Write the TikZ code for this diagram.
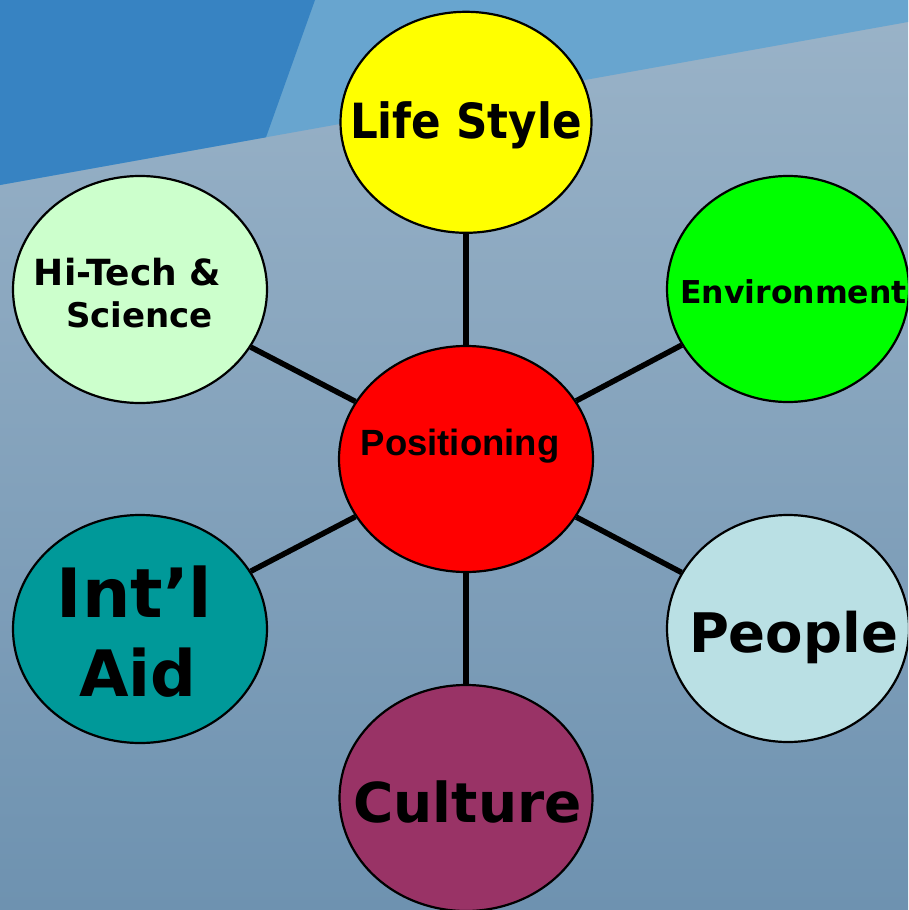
\documentclass[tikz,border=0pt]{standalone}
\usepackage{fontspec}
\setmainfont{DejaVu Sans}
\newfontfamily\verdanab{DejaVu Sans}[BoldFont={* Bold}]
\newfontfamily\condb{DejaVu Sans Condensed}[BoldFont={* Bold}]
\newfontfamily\arialb{Liberation Sans}[BoldFont={* Bold}]
\usetikzlibrary{shapes.geometric}
\definecolor{deepblue}{HTML}{3783C2}
\definecolor{lightblue}{HTML}{68A5CF}
\definecolor{greytop}{HTML}{9AB3C8}
\definecolor{greybot}{HTML}{6E92B0}
\definecolor{cLife}{HTML}{FFFF00}
\definecolor{cTech}{HTML}{CCFFCC}
\definecolor{cEnv}{HTML}{00FF00}
\definecolor{cPos}{HTML}{FF0000}
\definecolor{cAid}{HTML}{009999}
\definecolor{cPeople}{HTML}{BAE0E4}
\definecolor{cCult}{HTML}{993366}
% place one line of text: x offset, baseline offset (up), text
\newcommand\placetxt[3]{\makebox[0pt]{\smash{\raisebox{#2}{\hspace*{#1}#3\hspace*{-#1}}}}}
\tikzset{
  bubble/.style={ellipse, draw=black, line width=2.2pt, inner sep=0pt,
    text=black, fill=#1},
  spoke/.style={draw=black, line width=5.5pt}
}
\begin{document}
\begin{tikzpicture}[x=1pt,y=-1pt]
\useasboundingbox (0,0) rectangle (908,910);
\clip (0,0) rectangle (908,910);
% background
\shade[top color=greytop, bottom color=greybot] (0,0) rectangle (908,910);
\fill[lightblue] (0,0) -- (908,0) -- (908,22) -- (0,185) -- cycle;
\fill[deepblue] (0,0) -- (315,0) -- (266,137.3) -- (0,185) -- cycle;
% nodes
\node[bubble=cPos, minimum width=254pt, minimum height=226pt] (pos) at (466,459)
  {\arialb\bfseries\fontsize{36.5pt}{40pt}\selectfont\placetxt{-6pt}{4pt}{Positioning}};
\node[bubble=cLife, minimum width=251pt, minimum height=221pt] (life) at (466,122.3)
  {\condb\bfseries\fontsize{48.5pt}{54pt}\selectfont\placetxt{0pt}{-16pt}{Life Style}};
\node[bubble=cTech, minimum width=254pt, minimum height=227pt] (tech) at (140,289.5)
  {\verdanab\bfseries\fontsize{34pt}{42pt}\selectfont\placetxt{-12.5pt}{4.5pt}{\fontsize{36pt}{42pt}\selectfont Hi-Tech \&}\placetxt{-0.5pt}{-37.5pt}{Science}};
\node[bubble=cEnv, minimum width=242pt, minimum height=226pt] (env) at (788,289)
  {\verdanab\bfseries\fontsize{31.5pt}{36pt}\selectfont\placetxt{5.5pt}{-14pt}{Environment}};
\node[bubble=cAid, minimum width=254pt, minimum height=228pt] (aid) at (140,629)
  {\verdanab\bfseries\fontsize{68pt}{80pt}\selectfont\placetxt{-5.5pt}{12pt}{Int’l}\placetxt{-2pt}{-67pt}{\fontsize{64pt}{80pt}\selectfont Aid}};
\node[bubble=cPeople, minimum width=242pt, minimum height=227pt] (people) at (788,628.5)
  {\verdanab\bfseries\fontsize{54.5pt}{60pt}\selectfont\placetxt{5.5pt}{-23.5pt}{People}};
\node[bubble=cCult, minimum width=253pt, minimum height=226pt] (cult) at (466,798)
  {\verdanab\bfseries\fontsize{55pt}{60pt}\selectfont\placetxt{1.5pt}{-24pt}{Culture}};
% spokes
\draw[spoke] (pos) -- (life);
\draw[spoke] (pos) -- (tech);
\draw[spoke] (pos) -- (env);
\draw[spoke] (pos) -- (aid);
\draw[spoke] (pos) -- (people);
\draw[spoke] (pos) -- (cult);
\end{tikzpicture}
\end{document}
